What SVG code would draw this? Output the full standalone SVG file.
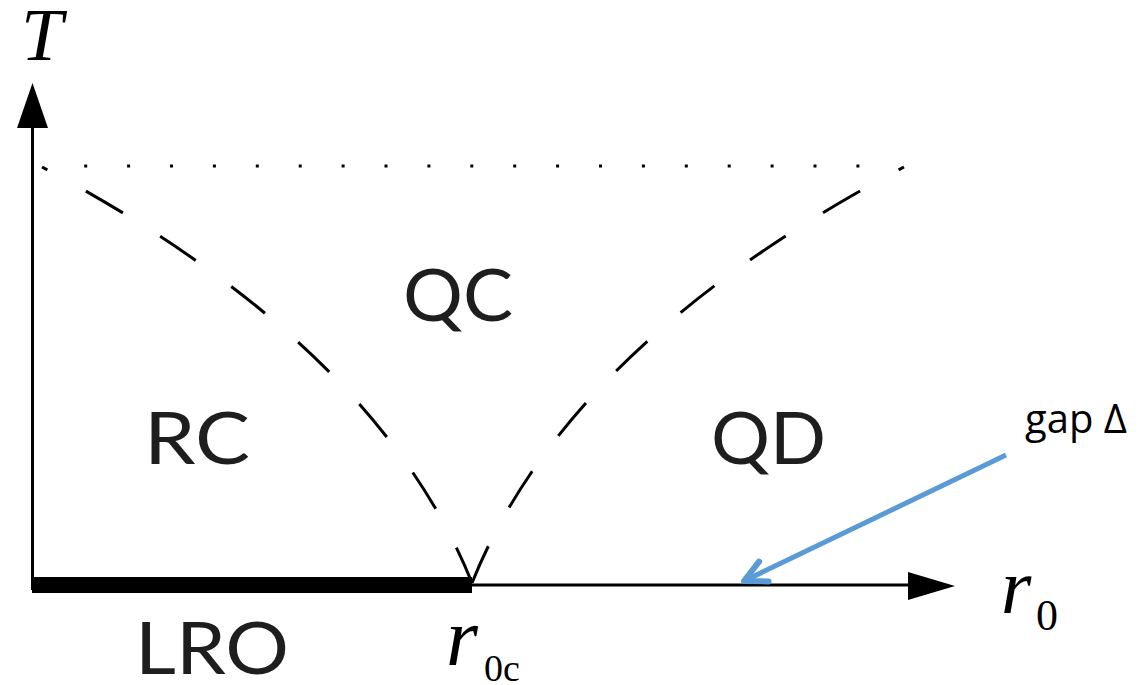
<svg xmlns="http://www.w3.org/2000/svg" width="1140" height="685" viewBox="0 0 1140 685">
  <style>
    .region { font-family: Lato, "Noto Sans", sans-serif; font-size: 72px; fill: #1e1e1e; }
    .math { font-family: "Liberation Serif", "DejaVu Serif", serif; fill: #000; }
    .axis { stroke: #000; stroke-width: 3; fill: none; }
    .crit { stroke: #000; stroke-width: 3; fill: none; stroke-dasharray: 43 44; stroke-dashoffset: 37; }
    .dots { stroke: #000; stroke-width: 3; fill: none; stroke-dasharray: 3 39.9; }
  </style>
  <defs>
    <marker id="openArrow" viewBox="-30 -15 35 30" refX="0" refY="0" markerWidth="35" markerHeight="30" markerUnits="userSpaceOnUse" orient="auto">
      <path d="M -22 -11 L 0 0 L -22 11" fill="none" stroke="#5b9bd5" stroke-width="6" stroke-linecap="round" stroke-linejoin="round"/>
    </marker>
  </defs>
  <rect width="1140" height="685" fill="#fff"/>

  <g id="axes">
    <line class="axis" x1="32.5" y1="590" x2="32.5" y2="125"/>
    <polygon points="17,128 32.5,83 48,128" fill="#000"/>
    <line class="axis" x1="32" y1="585" x2="912" y2="585"/>
    <polygon points="908,572 955,586 908,600" fill="#000"/>
  </g>

  <g id="lro-bar">
    <rect x="32" y="577" width="440" height="16" fill="#000"/>
  </g>

  <g id="connectors">
    <line class="dots" x1="84.2" y1="166" x2="860" y2="166"/>
    <path class="crit" d="M 42 167 Q 376.5 344.2 472 583"/>
    <path class="crit" d="M 904 167 Q 567.5 344.2 472 583"/>
    <line x1="1006" y1="455" x2="744" y2="581" stroke="#5b9bd5" stroke-width="5" marker-end="url(#openArrow)"/>
  </g>

  <g id="label-T"><text class="math" x="21" y="60" font-size="75" font-style="italic">T</text></g>
  <g id="label-QC"><text class="region" x="403" y="321" textLength="110" lengthAdjust="spacingAndGlyphs">QC</text></g>
  <g id="label-RC"><text class="region" x="144" y="464" textLength="106" lengthAdjust="spacingAndGlyphs">RC</text></g>
  <g id="label-QD"><text class="region" x="711" y="464" textLength="115" lengthAdjust="spacingAndGlyphs">QD</text></g>
  <g id="label-LRO"><text class="region" x="135" y="674" textLength="154" lengthAdjust="spacingAndGlyphs">LRO</text></g>
  <g id="label-r0c">
    <text class="math" x="446" y="665" font-size="82" font-style="italic">r</text>
    <text class="math" x="484" y="681" font-size="38">0c</text>
  </g>
  <g id="label-r0">
    <text class="math" x="1001" y="613" font-size="78" font-style="italic">r</text>
    <text class="math" x="1036" y="630" font-size="44">0</text>
  </g>
  <g id="label-gap"><text x="1025" y="433" font-family="'Open Sans', 'Noto Sans', sans-serif" font-size="40" fill="#000">gap Δ</text></g>
</svg>
